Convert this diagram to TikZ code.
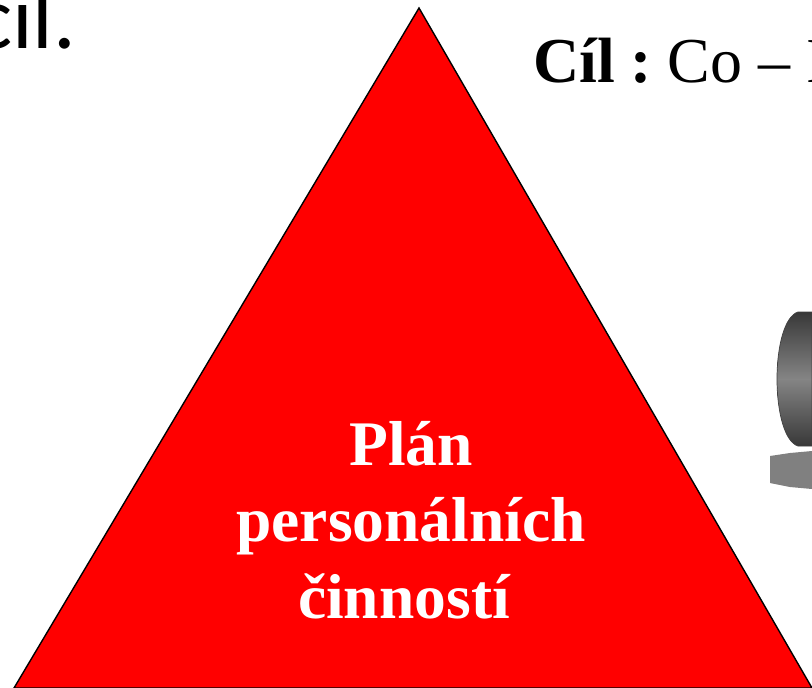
\documentclass[tikz,border=0pt]{standalone}
\usepackage{fontspec}
\setmainfont{Liberation Serif}
\newfontfamily\carl{Carlito}
\usetikzlibrary{shapes.geometric}
\tikzset{
  tri/.style={draw=black,line width=1.4pt,fill=red},
  headline/.style={inner sep=0pt,anchor=base west,text=black},
  planlabel/.style={inner sep=0pt,anchor=base,text=white,font=\fontsize{63.5}{64}\selectfont\bfseries},
}
\pgfdeclareverticalshading{drum}{100bp}{color(0bp)=(black!92); color(25bp)=(black!78); color(50bp)=(black!48); color(75bp)=(black!78); color(100bp)=(black!92)}
\begin{document}
\begin{tikzpicture}[x=1pt,y=-1pt]
\useasboundingbox (0,0) rectangle (812,688);
\clip (0,0) rectangle (812,688);
\fill[white] (0,0) rectangle (812,688);
% side object
\path[shading=drum,draw=black!75,line width=0.7pt] (812,312) -- (798,312) .. controls (785,316) and (777,345) .. (777,379) .. controls (777,413) and (785,442) .. (798,446) -- (812,446) -- cycle;
\fill[black!50] (770,456) -- (790,453) -- (812,451) -- (812,489) -- (790,487) -- (770,483) -- cycle;
% triangle
\coordinate (apex) at (419,8);
\coordinate (bl) at (14,688);
\coordinate (br) at (812,688);
\path[tri] (apex) -- (bl) -- (br) -- cycle;
% texts
\node[headline,font=\carl\fontsize{90}{90}\selectfont] (cil) at (-26,48) {cil.};
\node[headline,font=\fontsize{64}{64}\selectfont] (goal) at (533,82) {\textbf{Cíl :}\hspace{-6pt} Co – I};
\node[planlabel] (p1) at (411,465) {Plán};
\node[planlabel] (p2) at (411,541) {personálních};
\node[planlabel] (p3) at (404,618) {činností};
\end{tikzpicture}
\end{document}
